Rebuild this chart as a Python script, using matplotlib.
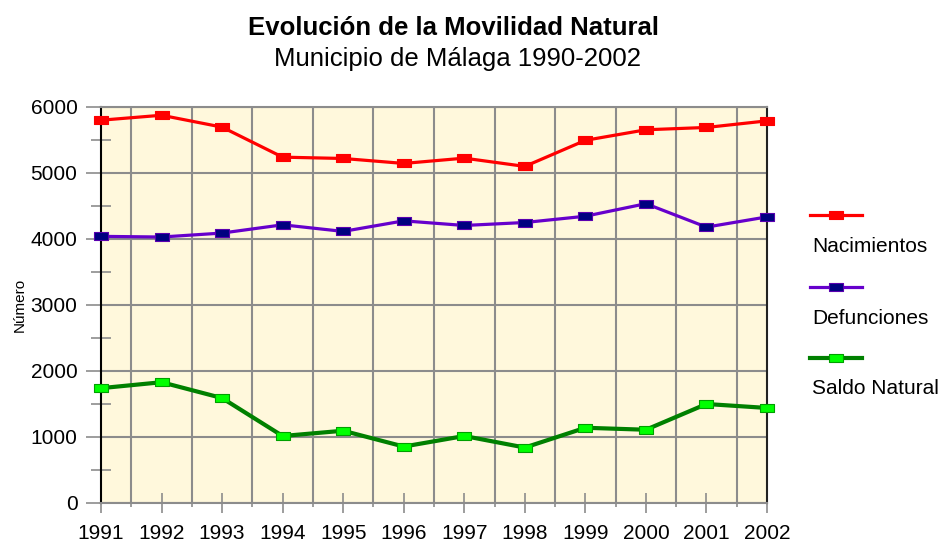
import matplotlib
matplotlib.use('Agg')
import matplotlib.pyplot as plt
from matplotlib.path import Path
from matplotlib.lines import Line2D

plt.rcParams['font.family'] = ['Liberation Sans', 'DejaVu Sans']

# Data
years = [1991, 1992, 1993, 1994, 1995, 1996, 1997, 1998, 1999, 2000, 2001, 2002]
nacimientos = [5800, 5875, 5695, 5240, 5220, 5145, 5225, 5100, 5495, 5655, 5690, 5790]
defunciones = [4040, 4030, 4090, 4215, 4115, 4275, 4205, 4250, 4345, 4535, 4180, 4335]
saldo = [1740, 1830, 1590, 1015, 1095, 855, 1015, 840, 1140, 1110, 1500, 1440]
labels = ['Nacimientos', 'Defunciones', 'Saldo Natural']

# wide rectangular marker
rect = Path([(-1, -0.55), (1, -0.55), (1, 0.55), (-1, 0.55), (-1, -0.55)],
            [Path.MOVETO, Path.LINETO, Path.LINETO, Path.LINETO, Path.CLOSEPOLY])

styles = [
    dict(color='#FF0000', lw=2.3, marker=rect, ms=9.5, mfc='#FF0000', mec='#FF0000'),
    dict(color='#6600CC', lw=2.3, marker=rect, ms=9.5, mfc='#000080', mec='#5a00b0'),
    dict(color='#008000', lw=3.0, marker=rect, ms=9.5, mfc='#00FF00', mec='#00A000'),
]

fig = plt.figure(figsize=(9.41, 5.43), dpi=100)
ax = fig.add_axes([101/941, 1-503/543, (767-101)/941, (503-107)/543])
ax.set_facecolor('#FFF8DC')

for vals, st in zip([nacimientos, defunciones, saldo], styles):
    ax.plot(years, vals, mew=0.8, zorder=3, clip_on=False, **st)

ax.set_xlim(1991, 2002)
ax.set_ylim(0, 6000)
ax.set_xticks(years)
ax.set_xticks([y + 0.5 for y in years[:-1]], minor=True)
ax.set_yticks(range(0, 6001, 1000))
ax.set_yticks(range(500, 6000, 1000), minor=True)

ax.grid(True, axis='x', which='minor', color='#8c8c8c', lw=1.5, zorder=1)
ax.grid(True, axis='y', which='major', color='#8c8c8c', lw=1.5, zorder=1)

ax.tick_params(axis='x', which='major', direction='inout', length=14, width=1.2,
               color='#8c8c8c', labelsize=15, pad=8)
ax.tick_params(axis='x', which='minor', direction='inout', length=6, width=1.2, color='#8c8c8c')
ax.tick_params(axis='y', which='major', direction='out', length=11, width=1.2,
               color='#8c8c8c', labelsize=15, pad=6)
ax.tick_params(axis='y', which='minor', direction='inout', length=15, width=1.2, color='#8c8c8c')

ax.spines['left'].set_color('black')
ax.spines['left'].set_linewidth(1.5)
ax.spines['right'].set_color('#222222')
ax.spines['right'].set_linewidth(1.5)
ax.spines['top'].set_color('#8c8c8c')
ax.spines['top'].set_linewidth(1.5)
ax.spines['bottom'].set_color('#8c8c8c')
ax.spines['bottom'].set_linewidth(1.5)

ax.set_ylabel('Número', fontsize=11)
ax.yaxis.set_label_coords(-0.112, 0.5)

fig.text(453/941, 1-28/543, 'Evolución de la Movilidad Natural', ha='center', va='center',
         fontsize=18.5, fontweight='bold')
fig.text(457/941, 1-59/543, 'Municipio de Málaga 1990-2002', ha='center', va='center', fontsize=18.5)

# legend: handle line with the label below it
leg_y = [215, 287, 358]
for st, lab, yy in zip(styles, labels, leg_y):
    yf = 1 - yy/543
    fig.add_artist(Line2D([810/941, 862/941], [yf, yf], transform=fig.transFigure,
                          color=st['color'], lw=st['lw'], mew=0.8))
    fig.add_artist(Line2D([836/941], [yf], transform=fig.transFigure, marker=rect,
                          ms=st['ms'], mfc=st['mfc'], mec=st['mec'], mew=0.8, ls='none'))
    fig.text(812/941, 1 - (yy + 31)/543, lab, ha='left', va='center', fontsize=15)

fig.savefig('out.png', dpi=100)
